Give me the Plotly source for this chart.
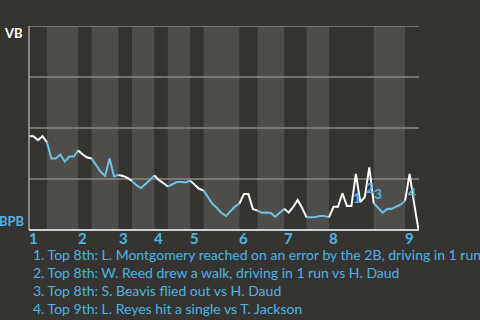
import plotly.graph_objects as go

# VB win probability (%) after each plate appearance (index 0 = game start)
wp = [46, 46, 44, 46, 43, 35, 35, 37, 33.5, 36, 36, 39, 37, 35.5, 35, 32, 28.5, 26.5, 35, 26.3,
      27, 26.5, 25.5, 24, 22, 20.6, 22.5, 24.5, 26.8, 24.5, 23, 21.3, 22.5, 23.5, 23.5, 23.3, 24.2,
      22, 20.2, 19.3, 15.7, 12.7, 10.8, 8.3, 6.9, 9.3, 11.5, 13, 17.6, 17.6, 10.3, 9.5, 8.5, 8.6,
      8.3, 6.5, 8.5, 10.4, 8.5, 11.3, 14.7, 10.8, 6.2, 6.2, 6.4, 6.9, 6.9, 6.2, 11.4, 11.4, 18,
      11.8, 11.8, 27.5, 13.7, 16.2, 30.7, 13.1, 10.8, 8.5, 10.3, 10.4, 11.5, 12.4, 14.4, 27.5,
      13.2, 0]

# plate appearances in each half-inning (top 1st, bottom 1st, ...)
half_pa = [4, 7, 3, 6, 3, 5, 3, 5, 3, 8, 4, 6, 5, 5, 10, 7, 3]
innings = ["1", "2", "3", "4", "5", "6", "7", "8", "9"]

event_idx = [73, 76, 77, 85]
event_labels = ["1", "2", "3", "4"]
event_text = [
    "1. Top 8th: L. Montgomery reached on an error by the 2B, driving in 1 run",
    "2. Top 8th: W. Reed drew a walk, driving in 1 run vs H. Daud",
    "3. Top 8th: S. Beavis flied out vs H. Daud",
    "4. Top 9th: L. Reyes hit a single vs T. Jackson",
]

team_top = "VB"
team_bottom = "BPB"

BG = "#363430"
BAND = "#4e4d4a"
GRID = "#8a8986"
WHITE = "#ffffff"
BLUE = "#6cc3e3"
TXTBLUE = "#4fb4e3"
FONT = "Lato"

bounds = [0]
for n in half_pa:
    bounds.append(bounds[-1] + n)

fig = go.Figure()
shapes = []
for h in range(len(half_pa)):
    a, b = bounds[h], bounds[h + 1]
    if h % 2 == 1:
        shapes.append(dict(type="rect", xref="x", yref="paper", x0=a, x1=b, y0=0, y1=1,
                           fillcolor=BAND, line=dict(width=0), layer="below"))
    xs = list(range(a, b + 1))
    ys = [wp[i] / 100 for i in xs]
    fig.add_trace(go.Scatter(x=xs, y=ys, mode="lines",
                             line=dict(color=WHITE if h % 2 == 0 else BLUE, width=2),
                             hoverinfo="skip", showlegend=False))

xmax = bounds[-1] + 0.1
for g in [0.25, 0.5, 0.75, 1.0]:
    shapes.append(dict(type="line", xref="paper", yref="y", x0=0, x1=1, y0=g, y1=g,
                       line=dict(color=GRID, width=1.5), layer="below"))
shapes.append(dict(type="line", xref="paper", yref="paper", x0=0, x1=0, y0=0, y1=1,
                   line=dict(color="#a6a5a2", width=1.5)))
shapes.append(dict(type="line", xref="paper", yref="paper", x0=0, x1=1, y0=0, y1=0,
                   line=dict(color="#cfcfcd", width=2)))

ann = []
# inning labels at start of each top half
for k, lab in enumerate(innings):
    ann.append(dict(x=bounds[2 * k], y=-0.039, xref="x", yref="paper", text=lab,
                    showarrow=False, xanchor="left", yanchor="middle", xshift=-2,
                    font=dict(family=FONT, size=15, color=TXTBLUE, weight="bold")))

shifts = [(1, -24), (1, -20), (4, 10), (2, -19)]
for i, lab, (dx, dy) in zip(event_idx, event_labels, shifts):
    ann.append(dict(x=i, y=wp[i] / 100, xref="x", yref="y", text=lab, showarrow=False,
                    xshift=dx, yshift=dy, xanchor="center", yanchor="middle",
                    font=dict(family=FONT, size=14, color=TXTBLUE, weight="bold")))

for k, t in enumerate(event_text):
    ann.append(dict(x=2 / 390, y=(230 - (254 + 18 * k)) / 204, xref="paper", yref="paper",
                    text=t, showarrow=False, xanchor="left", yanchor="middle",
                    font=dict(family=FONT, size=14, color=TXTBLUE)))

ann.append(dict(x=-27 / 390, y=(230 - 33) / 204, xref="paper", yref="paper", text=team_top,
                showarrow=False, xanchor="left", yanchor="middle",
                font=dict(family=FONT, size=13, color=WHITE, weight="bold")))
ann.append(dict(x=-2.5 / 390, y=(230 - 220.5) / 204, xref="paper", yref="paper", text=team_bottom,
                showarrow=False, xanchor="right", yanchor="middle",
                font=dict(family=FONT, size=13, color=TXTBLUE, weight="bold")))

fig.update_layout(
    width=480, height=320,
    margin=dict(l=29, r=61, t=26, b=90, pad=0),
    paper_bgcolor=BG, plot_bgcolor=BG,
    xaxis=dict(range=[0, xmax], showgrid=False, zeroline=False, showticklabels=False,
               showline=False, fixedrange=True),
    yaxis=dict(range=[0, 1], showgrid=False, zeroline=False, showticklabels=False,
               showline=False, fixedrange=True),
    shapes=shapes, annotations=ann, showlegend=False,
)

fig.write_html("out.html", config={"displayModeBar": False})
